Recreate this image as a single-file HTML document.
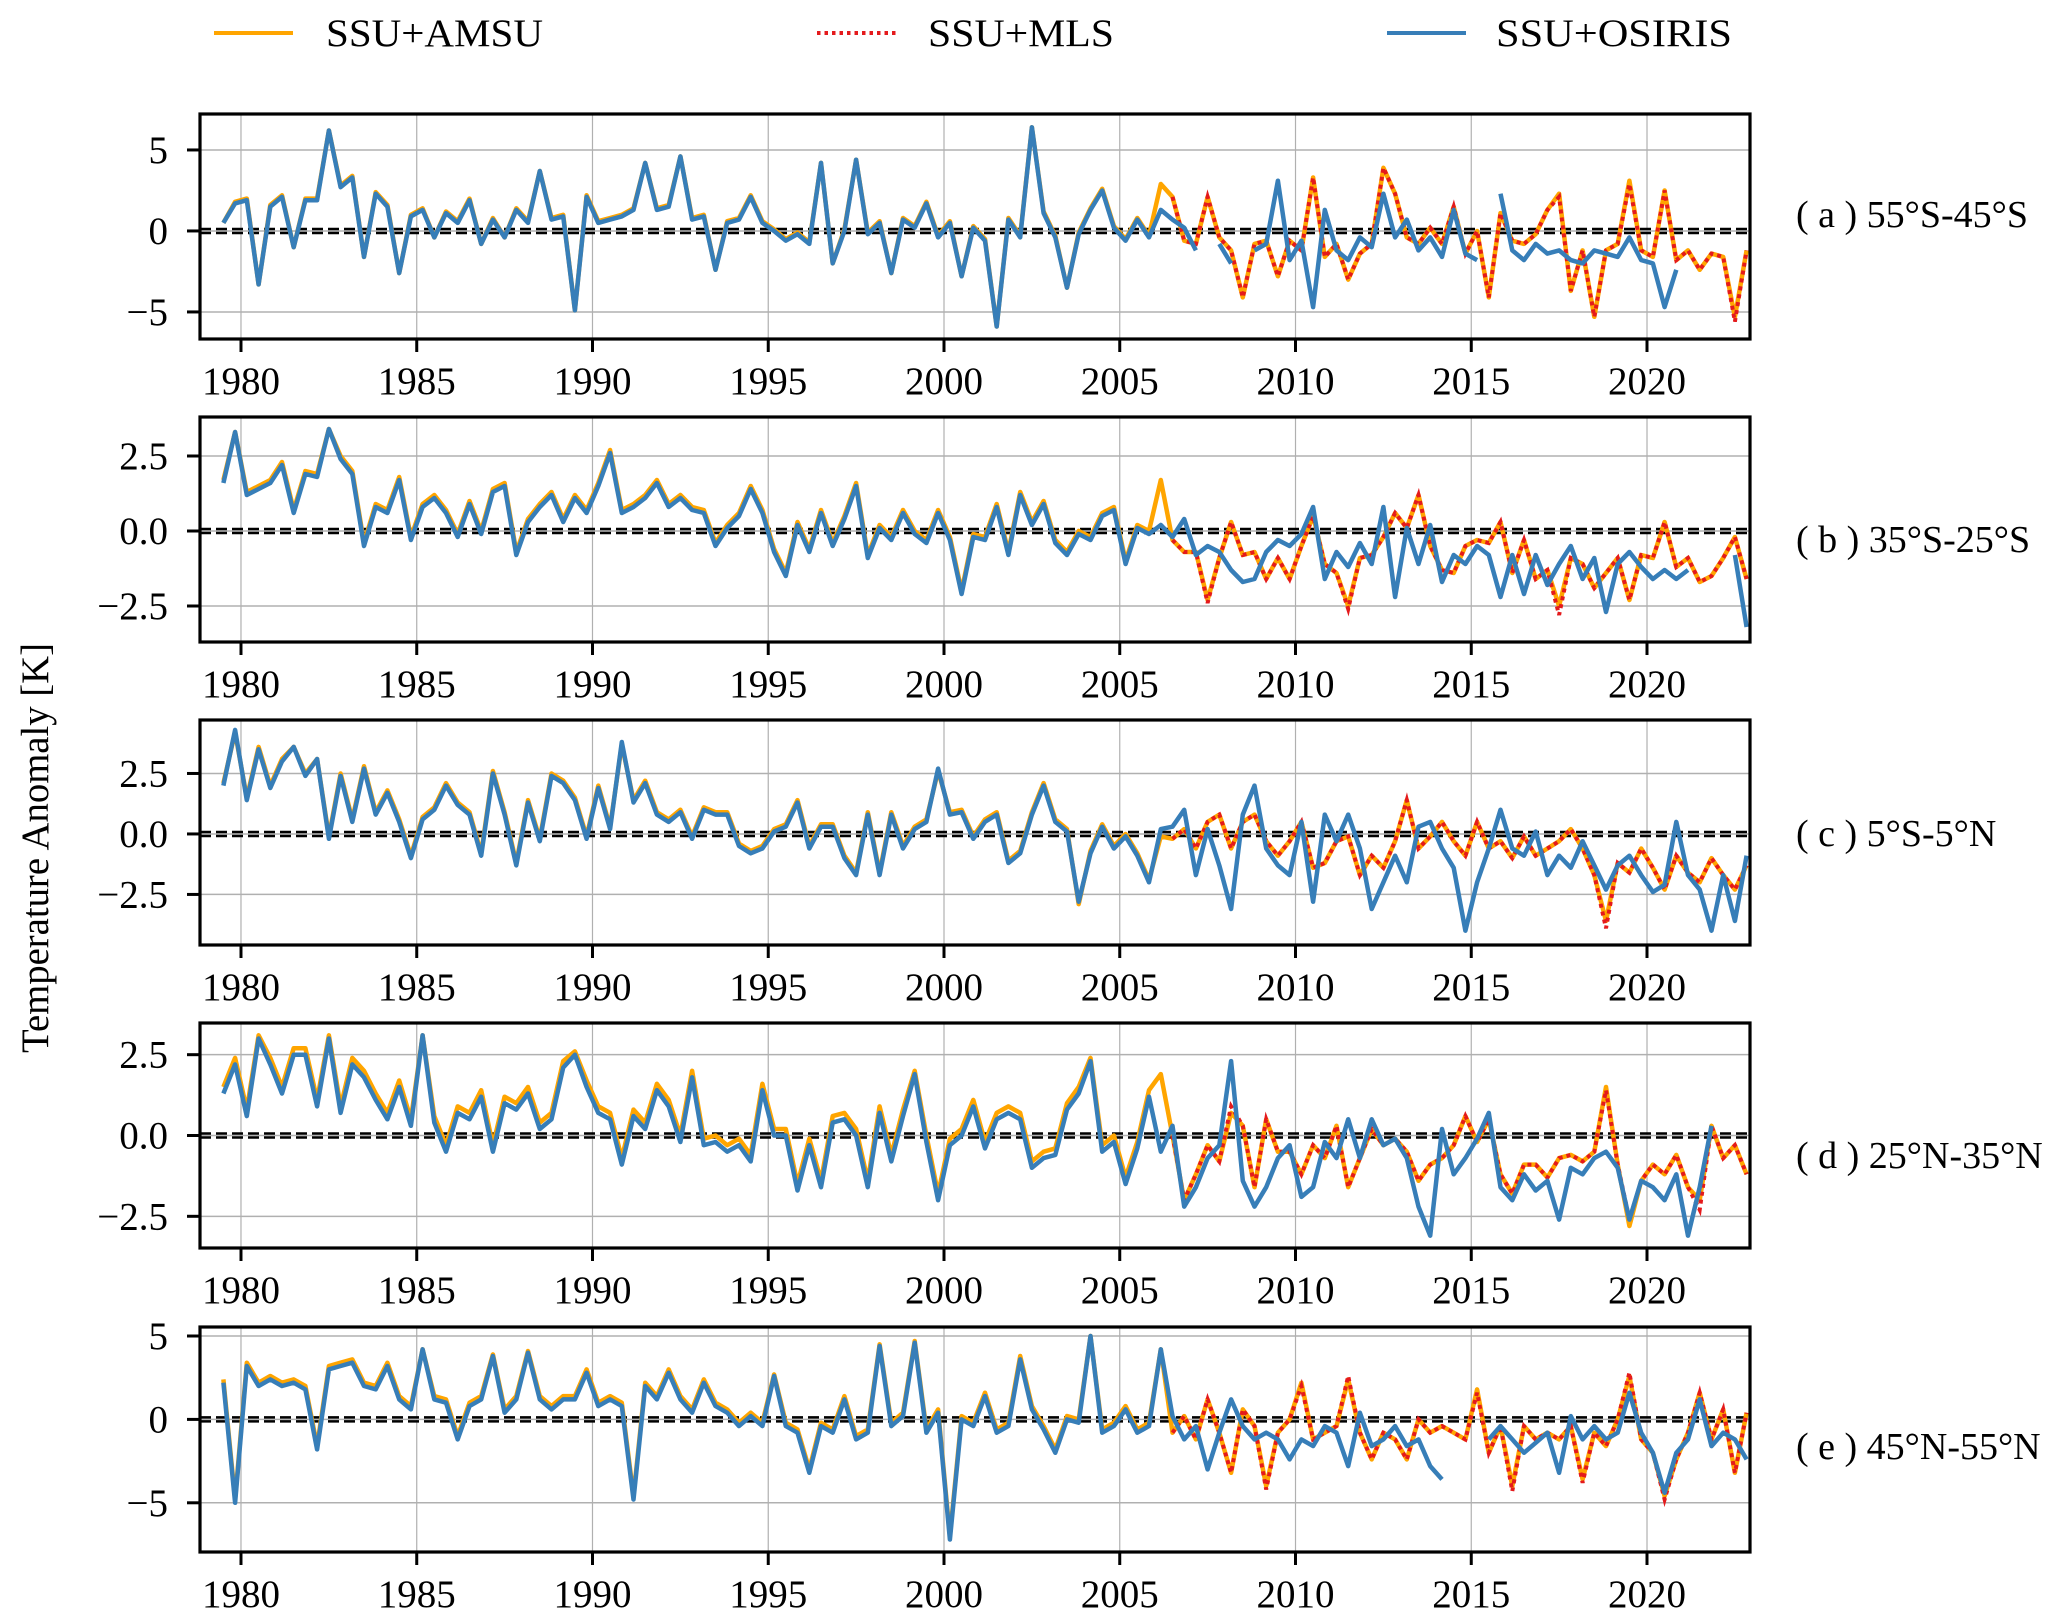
<!DOCTYPE html>
<html><head><meta charset="utf-8"><style>
html,body{margin:0;padding:0;background:#fff;}
svg{display:block;font-family:"Liberation Serif","DejaVu Serif",serif;}
</style></head><body>
<svg id="chart" width="2067" height="1624" viewBox="0 0 2067 1624" xmlns="http://www.w3.org/2000/svg">
<g>
 <g><line x1="214" y1="33" x2="293" y2="33" stroke="#FFA500" stroke-width="4"/><text x="326" y="46" font-size="39" textLength="217" lengthAdjust="spacingAndGlyphs">SSU+AMSU</text></g>
 <g><line x1="817" y1="33" x2="896" y2="33" stroke="#E41A1C" stroke-width="4" stroke-dasharray="3.5,4"/><text x="928" y="46" font-size="39" textLength="186" lengthAdjust="spacingAndGlyphs">SSU+MLS</text></g>
 <g><line x1="1387" y1="33" x2="1466" y2="33" stroke="#377EB8" stroke-width="4"/><text x="1496" y="46" font-size="39" textLength="236" lengthAdjust="spacingAndGlyphs">SSU+OSIRIS</text></g>
</g>
<text x="0" y="0" font-size="39" text-anchor="middle" textLength="410" lengthAdjust="spacingAndGlyphs" transform="translate(48,848) rotate(-90)">Temperature Anomaly [K]</text>
<g id="panels"></g>
</svg>
<script>
const xTicks = [1980,1985,1990,1995,2000,2005,2010,2015,2020];
const tStart = 1979.5;
const tStep = 1/3;
const mlsStart = 2006.5;
const panelLabels = ["( a )  55°S-45°S","( b )  35°S-25°S","( c )  5°S-5°N","( d )  25°N-35°N","( e )  45°N-55°N"];
const yTicksA = [-5,0,5]; const yTickLabelsA = ["−5","0","5"];
const yTicksB = [-2.5,0,2.5]; const yTickLabelsB = ["−2.5","0.0","2.5"];
const yTicksC = [-2.5,0,2.5]; const yTickLabelsC = ["−2.5","0.0","2.5"];
const yTicksD = [-2.5,0,2.5]; const yTickLabelsD = ["−2.5","0.0","2.5"];
const yTicksE = [-5,0,5]; const yTickLabelsE = ["−5","0","5"];

const osirisA = [0.5,1.7,1.9,-3.3,1.5,2.1,-1.0,1.9,1.9,6.2,2.7,3.3,-1.6,2.3,1.5,-2.6,0.9,1.3,-0.4,1.1,0.5,1.9,-0.8,0.7,-0.4,1.3,0.5,3.7,0.7,0.9,-4.9,2.1,0.5,0.7,0.9,1.3,4.2,1.3,1.5,4.6,0.7,0.9,-2.4,0.5,0.7,2.1,0.5,0.0,-0.6,-0.2,-0.8,4.2,-2.0,0.0,4.4,-0.2,0.5,-2.6,0.7,0.2,1.7,-0.4,0.5,-2.8,0.2,-0.6,-5.9,0.7,-0.4,6.4,1.1,-0.4,-3.5,-0.2,1.3,2.5,0.2,-0.6,0.7,-0.4,1.3,0.7,0.2,-1.2,null,-0.8,-2.0,null,-1.2,-0.8,3.1,-1.8,-0.6,-4.7,1.3,-1.2,-1.8,-0.4,-1.0,2.3,-0.4,0.7,-1.2,-0.4,-1.6,1.3,-1.4,-1.8,null,2.3,-1.2,-1.8,-0.8,-1.4,-1.2,-1.8,-2.0,-1.2,-1.4,-1.6,-0.4,-1.8,-2.0,-4.7,-2.4,null,null,null,null,null,-1.8];
const amsuA = [0.5,1.8,2.0,-3.3,1.6,2.2,-1.0,2.0,2.0,6.2,2.8,3.4,-1.6,2.4,1.6,-2.6,1.0,1.4,-0.4,1.2,0.6,2.0,-0.8,0.8,-0.4,1.4,0.6,3.7,0.8,1.0,-4.9,2.2,0.6,0.8,1.0,1.4,4.2,1.4,1.6,4.6,0.8,1.0,-2.4,0.6,0.8,2.2,0.6,0.1,-0.5,-0.1,-0.7,4.2,-2.0,0.1,4.4,-0.1,0.6,-2.6,0.8,0.3,1.8,-0.3,0.6,-2.8,0.3,-0.5,-5.9,0.8,-0.3,6.4,1.2,-0.3,-3.5,-0.1,1.4,2.6,0.3,-0.5,0.8,-0.3,2.9,2.1,-0.6,-0.8,2.1,-0.4,-1.2,-4.1,-0.8,-0.6,-2.8,-0.6,-1.2,3.3,-1.6,-0.8,-3.0,-1.4,-0.8,3.9,2.3,-0.4,-0.8,0.2,-0.8,1.5,-1.4,0.0,-4.1,1.1,-0.6,-0.8,-0.2,1.3,2.3,-3.7,-1.2,-5.3,-1.2,-0.8,3.1,-1.2,-1.6,2.5,-1.8,-1.2,-2.4,-1.4,-1.6,-5.3,-1.2];
const mlsA = [2.1,-0.6,-0.8,2.1,-0.4,-1.2,-4.1,-0.8,-0.6,-2.8,-0.6,-1.2,3.3,-1.6,-0.8,-3.0,-1.4,-0.8,3.9,2.3,-0.4,-0.8,0.2,-0.8,1.5,-1.4,0.0,-4.1,1.1,-0.6,-0.8,-0.2,1.3,2.1,-3.7,-1.2,-5.3,-1.2,-0.8,2.9,-1.2,-1.6,2.5,-1.8,-1.2,-2.4,-1.4,-1.6,-5.6,-1.2];

const osirisB = [1.6,3.3,1.2,1.4,1.6,2.2,0.6,1.9,1.8,3.4,2.4,1.9,-0.5,0.8,0.6,1.7,-0.3,0.8,1.1,0.6,-0.2,0.9,-0.1,1.3,1.5,-0.8,0.3,0.8,1.2,0.3,1.1,0.6,1.5,2.6,0.6,0.8,1.1,1.6,0.8,1.1,0.7,0.6,-0.5,0.1,0.5,1.4,0.6,-0.7,-1.5,0.2,-0.7,0.6,-0.5,0.4,1.5,-0.9,0.1,-0.3,0.6,-0.1,-0.4,0.6,-0.3,-2.1,-0.2,-0.3,0.8,-0.8,1.2,0.2,0.9,-0.4,-0.8,-0.1,-0.3,0.5,0.7,-1.1,0.1,-0.1,0.2,-0.2,0.4,-0.8,-0.5,-0.7,-1.3,-1.7,-1.6,-0.7,-0.3,-0.5,-0.1,0.8,-1.6,-0.7,-1.2,-0.4,-1.1,0.8,-2.2,0.1,-1.1,0.2,-1.7,-0.8,-1.1,-0.5,-0.8,-2.2,-0.8,-2.1,-0.8,-1.8,-1.1,-0.5,-1.6,-0.9,-2.7,-1.1,-0.7,-1.2,-1.6,-1.3,-1.6,-1.3,null,-3.4,null,-0.8,-3.2];
const amsuB = [1.7,3.3,1.3,1.5,1.7,2.3,0.7,2.0,1.9,3.4,2.5,2.0,-0.4,0.9,0.7,1.8,-0.2,0.9,1.2,0.7,-0.1,1.0,0.0,1.4,1.6,-0.7,0.4,0.9,1.3,0.4,1.2,0.7,1.6,2.7,0.7,0.9,1.2,1.7,0.9,1.2,0.8,0.7,-0.4,0.2,0.6,1.5,0.7,-0.6,-1.4,0.3,-0.6,0.7,-0.4,0.5,1.6,-0.8,0.2,-0.2,0.7,0.0,-0.3,0.7,-0.2,-2.0,-0.1,-0.2,0.9,-0.7,1.3,0.3,1.0,-0.3,-0.7,0.0,-0.2,0.6,0.8,-1.0,0.2,0.0,1.7,-0.3,-0.7,-0.7,-2.3,-0.9,0.3,-0.8,-0.7,-1.6,-0.9,-1.6,-0.5,0.5,-1.1,-1.4,-2.5,-0.9,-0.8,-0.2,0.6,0.1,1.2,-0.5,-1.3,-1.4,-0.5,-0.3,-0.4,0.3,-1.4,-0.3,-1.6,-1.3,-2.5,-0.9,-1.1,-1.9,-1.4,-0.9,-2.3,-0.8,-0.9,0.3,-1.2,-0.9,-1.7,-1.5,-0.9,-0.2,-1.6];
const mlsB = [-0.3,-0.7,-0.7,-2.4,-0.9,0.3,-0.8,-0.7,-1.6,-0.9,-1.6,-0.5,0.5,-1.1,-1.4,-2.6,-0.9,-0.8,-0.2,0.6,0.1,1.2,-0.5,-1.3,-1.4,-0.5,-0.3,-0.4,0.3,-1.4,-0.3,-1.6,-1.3,-2.8,-0.9,-1.1,-1.9,-1.4,-0.9,-2.3,-0.8,-0.9,0.3,-1.2,-0.9,-1.7,-1.5,-0.9,-0.2,-1.6];

const osirisC = [2.0,4.3,1.4,3.5,1.9,3.0,3.6,2.4,3.1,-0.2,2.4,0.5,2.7,0.8,1.7,0.5,-1.0,0.6,1.0,2.0,1.2,0.8,-0.9,2.5,0.8,-1.3,1.3,-0.3,2.4,2.1,1.4,-0.2,1.9,0.2,3.8,1.3,2.1,0.8,0.5,0.9,-0.2,1.0,0.8,0.8,-0.5,-0.8,-0.6,0.1,0.3,1.3,-0.6,0.3,0.3,-1.0,-1.7,0.8,-1.7,0.8,-0.6,0.2,0.5,2.7,0.8,0.9,-0.2,0.5,0.8,-1.2,-0.8,0.8,2.0,0.5,0.1,-2.8,-0.8,0.3,-0.6,-0.1,-0.9,-2.0,0.2,0.3,1.0,-1.7,0.2,-1.3,-3.1,0.8,2.0,-0.6,-1.3,-1.7,0.5,-2.8,0.8,-0.3,0.8,-0.6,-3.1,-2.0,-0.9,-2.0,0.3,0.5,-0.6,-1.4,-4.0,-2.0,-0.6,1.0,-0.6,-0.9,0.1,-1.7,-0.9,-1.4,-0.3,-1.3,-2.3,-1.3,-0.9,-1.7,-2.4,-2.1,0.5,-1.7,-2.3,-4.0,-1.7,-3.6,-0.9];
const amsuC = [2.1,4.2,1.5,3.6,2.0,3.1,3.6,2.5,3.1,-0.1,2.5,0.6,2.8,0.9,1.8,0.6,-0.9,0.7,1.1,2.1,1.3,0.9,-0.8,2.6,0.9,-1.2,1.4,-0.2,2.5,2.2,1.5,-0.1,2.0,0.3,3.7,1.4,2.2,0.9,0.6,1.0,-0.1,1.1,0.9,0.9,-0.4,-0.7,-0.5,0.2,0.4,1.4,-0.5,0.4,0.4,-0.9,-1.6,0.9,-1.6,0.9,-0.5,0.3,0.6,2.6,0.9,1.0,-0.1,0.6,0.9,-1.1,-0.7,0.9,2.1,0.6,0.2,-2.9,-0.7,0.4,-0.5,0.0,-0.8,-1.9,-0.1,-0.2,0.2,-0.6,0.5,0.8,-0.6,0.5,0.8,-0.3,-0.9,-0.3,0.5,-1.4,-1.2,-0.3,-0.1,-1.7,-0.9,-1.4,-0.3,1.4,-0.6,-0.1,0.5,-0.3,-0.9,0.5,-0.6,-0.3,-1.0,-0.1,-0.9,-0.6,-0.3,0.2,-0.6,-1.7,-3.6,-1.2,-1.6,-0.6,-1.4,-2.3,-0.9,-1.6,-2.0,-1.0,-1.7,-2.3,-1.3];
const mlsC = [-0.2,0.2,-0.6,0.5,0.8,-0.6,0.5,0.8,-0.3,-0.9,-0.3,0.5,-1.4,-1.2,-0.3,-0.1,-1.7,-0.9,-1.4,-0.3,1.4,-0.6,-0.1,0.5,-0.3,-0.9,0.5,-0.6,-0.3,-1.0,-0.1,-0.9,-0.6,-0.3,0.2,-0.6,-1.7,-3.9,-1.2,-1.6,-0.6,-1.4,-2.3,-0.9,-1.6,-2.0,-1.0,-1.7,-2.3,-1.3];

const osirisD = [1.3,2.2,0.6,3.0,2.2,1.3,2.5,2.5,0.9,3.0,0.7,2.2,1.8,1.1,0.5,1.5,0.3,3.1,0.4,-0.5,0.7,0.5,1.2,-0.5,1.0,0.8,1.3,0.2,0.5,2.1,2.5,1.5,0.7,0.5,-0.9,0.6,0.2,1.4,0.9,-0.2,1.8,-0.3,-0.2,-0.5,-0.3,-0.8,1.4,0.0,0.0,-1.7,-0.3,-1.6,0.4,0.5,0.0,-1.6,0.7,-0.8,0.6,1.9,-0.2,-2.0,-0.3,0.0,0.9,-0.4,0.5,0.7,0.5,-1.0,-0.7,-0.6,0.8,1.3,2.3,-0.5,-0.2,-1.5,-0.4,1.2,-0.5,0.3,-2.2,-1.6,-0.7,-0.3,2.3,-1.4,-2.2,-1.6,-0.7,-0.3,-1.9,-1.6,-0.2,-0.7,0.5,-0.7,0.5,-0.3,-0.1,-0.7,-2.2,-3.1,0.2,-1.2,-0.7,-0.1,0.7,-1.6,-2.0,-1.2,-1.7,-1.4,-2.6,-1.0,-1.2,-0.7,-0.5,-1.0,-2.6,-1.4,-1.6,-2.0,-1.2,-3.1,-1.6,0.3,null,null,-2.6];
const amsuD = [1.5,2.4,0.8,3.1,2.4,1.5,2.7,2.7,1.1,3.1,0.9,2.4,2.0,1.3,0.7,1.7,0.5,3.1,0.6,-0.3,0.9,0.7,1.4,-0.3,1.2,1.0,1.5,0.4,0.7,2.3,2.6,1.7,0.9,0.7,-0.7,0.8,0.4,1.6,1.1,0.0,2.0,-0.1,0.0,-0.3,-0.1,-0.6,1.6,0.2,0.2,-1.5,-0.1,-1.4,0.6,0.7,0.2,-1.4,0.9,-0.6,0.8,2.0,0.0,-1.8,-0.1,0.2,1.1,-0.2,0.7,0.9,0.7,-0.8,-0.5,-0.4,1.0,1.5,2.4,-0.3,0.0,-1.3,-0.2,1.4,1.9,0.0,-2.0,-1.2,-0.3,-0.8,0.7,0.3,-1.6,0.5,-0.5,-0.5,-1.2,-0.3,-0.7,0.3,-1.6,-0.7,0.2,-0.3,-0.1,-0.5,-1.4,-0.9,-0.7,-0.3,0.6,-0.2,0.5,-1.2,-1.8,-0.9,-0.9,-1.3,-0.7,-0.6,-0.8,-0.5,1.5,-0.9,-2.8,-1.4,-0.9,-1.2,-0.6,-1.6,-2.0,0.3,-0.7,-0.3,-1.2];
const mlsD = [0.0,-2.0,-1.2,-0.3,-0.8,0.9,0.3,-1.6,0.5,-0.5,-0.5,-1.2,-0.3,-0.7,0.3,-1.6,-0.7,0.2,-0.3,-0.1,-0.5,-1.4,-0.9,-0.7,-0.3,0.6,-0.2,0.5,-1.2,-1.8,-0.9,-0.9,-1.3,-0.7,-0.6,-0.8,-0.5,1.4,-0.9,-2.6,-1.4,-0.9,-1.2,-0.6,-1.6,-2.3,0.3,-0.7,-0.3,-1.2];

const osirisE = [2.2,-5.0,3.2,2.0,2.4,2.0,2.2,1.8,-1.8,3.0,3.2,3.4,2.0,1.8,3.2,1.2,0.6,4.2,1.2,1.0,-1.2,0.8,1.2,3.8,0.4,1.2,4.0,1.2,0.6,1.2,1.2,2.8,0.8,1.2,0.8,-4.8,2.0,1.2,2.8,1.2,0.4,2.2,0.8,0.4,-0.4,0.2,-0.4,2.6,-0.4,-0.8,-3.2,-0.4,-0.8,1.2,-1.2,-0.8,4.4,-0.4,0.2,4.6,-0.8,0.4,-7.2,0.0,-0.4,1.4,-0.8,-0.4,3.6,0.6,-0.6,-2.0,0.0,-0.2,5.0,-0.8,-0.4,0.6,-0.8,-0.4,4.2,0.2,-1.2,-0.4,-3.0,-0.8,1.2,-0.4,-1.2,-0.8,-1.2,-2.4,-1.2,-1.6,-0.4,-0.8,-2.8,0.4,-1.6,-1.2,-0.4,-1.6,-1.2,-2.8,-3.6,null,null,null,-1.2,-0.4,-1.2,-2.0,-1.4,-0.8,-3.2,0.2,-1.2,-0.4,-1.2,-0.8,1.6,-0.8,-2.0,-4.4,-2.0,-1.2,1.2,-1.6,-0.8,-1.2,-2.4];
const amsuE = [2.4,-4.8,3.4,2.2,2.6,2.2,2.4,2.0,-1.6,3.2,3.4,3.6,2.2,2.0,3.4,1.4,0.8,4.2,1.4,1.2,-1.0,1.0,1.4,3.9,0.6,1.4,4.1,1.4,0.8,1.4,1.4,3.0,1.0,1.4,1.0,-4.6,2.2,1.4,3.0,1.4,0.6,2.4,1.0,0.6,-0.2,0.4,-0.2,2.7,-0.2,-0.6,-3.0,-0.2,-0.6,1.4,-1.0,-0.6,4.5,-0.2,0.4,4.7,-0.6,0.6,-7.0,0.2,-0.2,1.6,-0.6,-0.2,3.8,0.8,-0.4,-1.8,0.2,0.0,5.0,-0.6,-0.2,0.8,-0.6,-0.2,4.2,-0.8,0.2,-1.2,1.2,-0.8,-3.2,0.6,-0.4,-4.0,-0.8,0.0,2.2,-1.2,-0.8,-0.4,2.4,-0.8,-2.4,-0.8,-1.2,-2.4,0.0,-0.8,-0.4,-0.8,-1.2,1.8,-2.0,-0.4,-4.0,-0.4,-1.2,-0.8,-1.2,-0.4,-3.6,-0.8,-1.6,0.0,2.6,-1.2,-2.0,-4.6,-2.4,-0.8,1.6,-1.2,0.6,-3.2,0.4];
const mlsE = [-0.8,0.2,-1.2,1.2,-0.8,-3.2,0.6,-0.4,-4.2,-0.8,0.0,2.0,-1.2,-0.8,-0.4,2.6,-0.8,-2.4,-0.8,-1.2,-2.4,0.0,-0.8,-0.4,-0.8,-1.2,1.6,-2.0,-0.4,-4.3,-0.4,-1.2,-0.8,-1.2,-0.4,-3.8,-0.8,-1.6,0.0,2.8,-1.2,-2.0,-4.8,-2.4,-0.8,1.6,-1.2,0.6,-3.2,0.4];

const NS = "http://www.w3.org/2000/svg";
const X0 = 200, X1 = 1750, TMIN = 1978.834, TMAX = 2022.93;
function xScale(t){ return X0 + (t - TMIN) / (TMAX - TMIN) * (X1 - X0); }

const panels = [
 {id:"a", top:114, bottom:339, ymin:-6.67, ymax:7.22, ticks:yTicksA, tl:yTickLabelsA, amsu:amsuA, mls:mlsA, osiris:osirisA, lb:227},
 {id:"b", top:417, bottom:642, ymin:-3.70, ymax:3.80, ticks:yTicksB, tl:yTickLabelsB, amsu:amsuB, mls:mlsB, osiris:osirisB, lb:552},
 {id:"c", top:720, bottom:945, ymin:-4.59, ymax:4.71, ticks:yTicksC, tl:yTickLabelsC, amsu:amsuC, mls:mlsC, osiris:osirisC, lb:846},
 {id:"d", top:1023, bottom:1248, ymin:-3.48, ymax:3.48, ticks:yTicksD, tl:yTickLabelsD, amsu:amsuD, mls:mlsD, osiris:osirisD, lb:1168},
 {id:"e", top:1327, bottom:1552, ymin:-7.95, ymax:5.54, ticks:yTicksE, tl:yTickLabelsE, amsu:amsuE, mls:mlsE, osiris:osirisE, lb:1459}
];

function mk(tag, attrs, parent){
  const el = document.createElementNS(NS, tag);
  for (const k in attrs) el.setAttribute(k, attrs[k]);
  parent.appendChild(el);
  return el;
}
function pathFrom(vals, t0, yS){
  let d = "", pen = false;
  for (let i = 0; i < vals.length; i++){
    const v = vals[i];
    if (v === null){ pen = false; continue; }
    const x = xScale(t0 + i * tStep).toFixed(1), y = yS(v).toFixed(1);
    d += (pen ? "L" : "M") + x + " " + y + " ";
    pen = true;
  }
  return d;
}

const root = document.getElementById("panels");
panels.forEach((p, pi) => {
  const g = mk("g", {}, root);
  
  
  const yS = v => p.bottom - (v - p.ymin) / (p.ymax - p.ymin) * (p.bottom - p.top);
  xTicks.forEach(t => {
    const l = mk("line", {x1:xScale(t), x2:xScale(t), y1:p.top, y2:p.bottom, stroke:"#b0b0b0", "stroke-width":1.2}, g);
    
    
  });
  p.ticks.forEach(v => {
    const l = mk("line", {x1:X0, x2:X1, y1:yS(v), y2:yS(v), stroke:"#b0b0b0", "stroke-width":1.5}, g);
    
    
  });
  [-2, 2].forEach(off => {
    const z = mk("line", {x1:X0, x2:X1, y1:yS(0)+off, y2:yS(0)+off, stroke:"#000", "stroke-width":2.5, "stroke-dasharray":"11,5"}, g);
    
    
  });
  const clipId = "clip" + p.id;
  const cp = mk("clipPath", {id:clipId}, g);
  mk("rect", {x:X0, y:p.top, width:X1-X0, height:p.bottom-p.top}, cp);
  const sg = mk("g", {"clip-path":"url(#" + clipId + ")"}, g);
  const a = mk("path", {d:pathFrom(p.amsu, tStart, yS), fill:"none", stroke:"#FFA500", "stroke-width":4.5, "stroke-linejoin":"round"}, sg);
  
  
  const m = mk("path", {d:pathFrom(p.mls, mlsStart, yS), fill:"none", stroke:"#E41A1C", "stroke-width":4, "stroke-dasharray":"4,4"}, sg);
  
  
  const o = mk("path", {d:pathFrom(p.osiris, tStart, yS), fill:"none", stroke:"#377EB8", "stroke-width":4.5, "stroke-linejoin":"round"}, sg);
  
  
  const fr = mk("rect", {x:X0, y:p.top, width:X1-X0, height:p.bottom-p.top, fill:"none", stroke:"#000", "stroke-width":3.2}, g);
  
  
  p.ticks.forEach((v, k) => {
    mk("line", {x1:X0-13, x2:X0, y1:yS(v), y2:yS(v), stroke:"#000", "stroke-width":3}, g);
    const tx = mk("text", {x:168, y:yS(v)+13, "font-size":39, "text-anchor":"end"}, g);
    
    
    tx.textContent = p.tl[k];
  });
  xTicks.forEach(t => {
    mk("line", {x1:xScale(t), x2:xScale(t), y1:p.bottom, y2:p.bottom+13, stroke:"#000", "stroke-width":3}, g);
    const tx = mk("text", {x:xScale(t), y:p.bottom+55, "font-size":39, "text-anchor":"middle"}, g);
    
    
    tx.textContent = String(t);
  });
  const lab = mk("text", {x:1796, y:p.lb, "font-size":38}, g);
  
  
  lab.textContent = panelLabels[pi];
});
</script>
</body></html>
